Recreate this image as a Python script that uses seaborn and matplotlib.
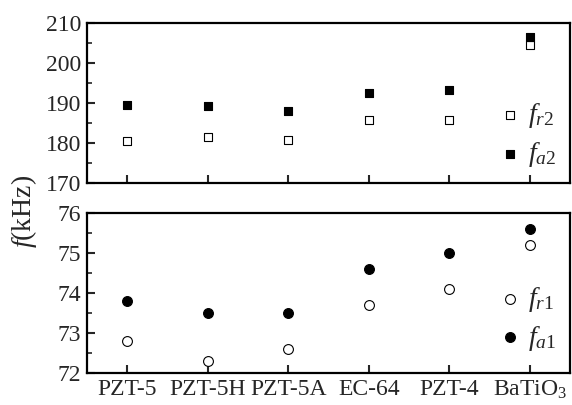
import matplotlib
matplotlib.use("Agg")
import matplotlib.pyplot as plt
import pandas as pd
import seaborn as sns

# Materials and measured frequencies (kHz)
materials = ["PZT-5", "PZT-5H", "PZT-5A", "EC-64", "PZT-4", "BaTiO$_3$"]
f_r2 = [180.4, 181.6, 180.7, 185.7, 185.7, 204.5]
f_a2 = [189.4, 189.3, 188.0, 192.5, 193.2, 206.5]
f_r1 = [72.8, 72.3, 72.6, 73.7, 74.1, 75.2]
f_a1 = [73.8, 73.5, 73.5, 74.6, 75.0, 75.6]

sns.set_style("white")
plt.rcParams['font.family'] = ['Liberation Serif', 'DejaVu Serif']
plt.rcParams['mathtext.fontset'] = 'custom'
plt.rcParams['mathtext.rm'] = 'Liberation Serif'
plt.rcParams['mathtext.it'] = 'Liberation Serif:italic'

df = pd.DataFrame({"material": materials, "fr2": f_r2, "fa2": f_a2,
                   "fr1": f_r1, "fa1": f_a1})

fig = plt.figure(figsize=(5.72, 4.05), dpi=100)
ax1 = fig.add_axes([87/572, 1 - 183/405, 483/572, 160/405])
ax2 = fig.add_axes([87/572, 1 - 373/405, 483/572, 160/405])

sns.scatterplot(data=df, x="material", y="fr2", ax=ax1, marker="s", s=40,
                facecolor="white", edgecolor="black", linewidth=0.8, label="$f_{r2}$")
sns.scatterplot(data=df, x="material", y="fa2", ax=ax1, marker="s", s=40,
                color="black", edgecolor="black", linewidth=0.8, label="$f_{a2}$")
sns.scatterplot(data=df, x="material", y="fr1", ax=ax2, marker="o", s=50,
                facecolor="white", edgecolor="black", linewidth=0.8, label="$f_{r1}$")
sns.scatterplot(data=df, x="material", y="fa1", ax=ax2, marker="o", s=50,
                color="black", edgecolor="black", linewidth=0.8, label="$f_{a1}$")

ax1.set_ylim(170, 210)
ax1.set_yticks([170, 180, 190, 200, 210])
ax1.set_yticks([175, 185, 195, 205], minor=True)
ax2.set_ylim(72, 76)
ax2.set_yticks([72, 73, 74, 75, 76])
ax2.set_yticks([72.5, 73.5, 74.5, 75.5], minor=True)

for ax, anchor in ((ax1, (1, 0)), (ax2, (1, 0.04))):
    ax.set_xlim(-0.5, 5.5)
    ax.set_xlabel("")
    ax.set_ylabel("")
    for sp in ax.spines.values():
        sp.set_linewidth(1.6)
        sp.set_color("black")
    ax.tick_params(axis="both", which="major", direction="in", length=6, width=1.5,
                   labelsize=17, left=True, bottom=True, top=False, right=False, pad=4)
    ax.tick_params(axis="y", which="minor", direction="in", length=3.5, width=1.2, left=True)
    ax.legend(loc="lower right", bbox_to_anchor=anchor, frameon=False, fontsize=20,
              handlelength=1.0, handletextpad=0.15, labelspacing=0.35,
              borderaxespad=0.1)

ax1.tick_params(axis="x", labelbottom=False)

fig.text(24/572, 1 - 211/405, "$f$(kHz)", rotation=90, fontsize=20, ha="center", va="center")

fig.savefig("out.png", dpi=100)
